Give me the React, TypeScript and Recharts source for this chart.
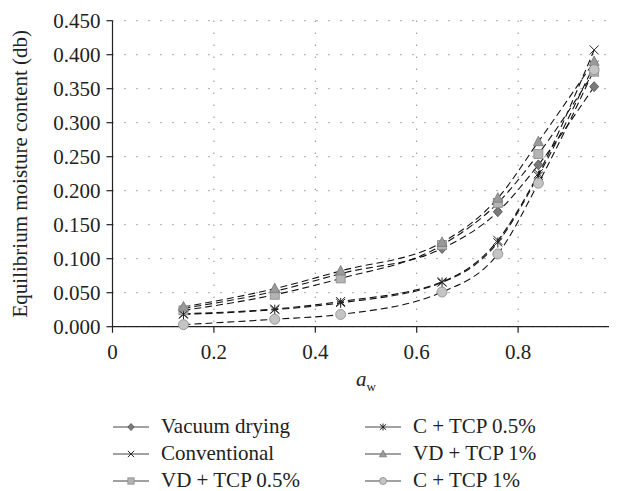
import React from 'react'
import { LineChart, Line, XAxis, YAxis, CartesianGrid } from 'recharts'

const AW = [0.14, 0.32, 0.45, 0.65, 0.76, 0.84, 0.95]
const VACUUM = [0.027, 0.052, 0.078, 0.115, 0.169, 0.238, 0.353]
const CONVENTIONAL = [0.019, 0.026, 0.037, 0.066, 0.127, 0.225, 0.407]
const VD_TCP05 = [0.024, 0.047, 0.071, 0.12, 0.182, 0.254, 0.375]
const C_TCP05 = [0.018, 0.025, 0.035, 0.065, 0.124, 0.222, 0.385]
const VD_TCP1 = [0.029, 0.056, 0.082, 0.124, 0.189, 0.272, 0.39]
const C_TCP1 = [0.003, 0.011, 0.018, 0.051, 0.107, 0.211, 0.378]

const X_TICKS = [0, 0.2, 0.4, 0.6, 0.8]
const Y_TICKS = [0, 0.05, 0.1, 0.15, 0.2, 0.25, 0.3, 0.35, 0.4, 0.45]

type Shape = 'diamond' | 'cross' | 'square' | 'star' | 'triangle' | 'circle'

const SERIES: { key: string; label: string; shape: Shape; values: number[] }[] = [
  { key: 'vacuum', label: 'Vacuum drying', shape: 'diamond', values: VACUUM },
  { key: 'conv', label: 'Conventional', shape: 'cross', values: CONVENTIONAL },
  { key: 'vd05', label: 'VD + TCP 0.5%', shape: 'square', values: VD_TCP05 },
  { key: 'c05', label: 'C + TCP 0.5%', shape: 'star', values: C_TCP05 },
  { key: 'vd1', label: 'VD + TCP 1%', shape: 'triangle', values: VD_TCP1 },
  { key: 'c1', label: 'C + TCP 1%', shape: 'circle', values: C_TCP1 },
]

const data = AW.map((aw, i) => {
  const row: Record<string, number> = { aw }
  SERIES.forEach((s) => (row[s.key] = s.values[i]))
  return row
})

const FONT = '"Liberation Serif", "Times New Roman", serif'

// s scales the marker (1 on the plot, smaller in the legend)
function marker(shape: Shape, cx: number, cy: number, k?: string | number, s = 1) {
  switch (shape) {
    case 'diamond':
      return (
        <polygon
          key={k}
          points={`${cx},${cy - 5 * s} ${cx + 4.5 * s},${cy} ${cx},${cy + 5 * s} ${cx - 4.5 * s},${cy}`}
          fill="#7a7a7a"
          stroke="#4a4a4a"
          strokeWidth={0.8}
        />
      )
    case 'cross':
      return (
        <g key={k} stroke="#222" strokeWidth={1}>
          <line x1={cx - 4.5 * s} y1={cy - 4.5 * s} x2={cx + 4.5 * s} y2={cy + 4.5 * s} />
          <line x1={cx - 4.5 * s} y1={cy + 4.5 * s} x2={cx + 4.5 * s} y2={cy - 4.5 * s} />
        </g>
      )
    case 'square':
      return (
        <rect
          key={k}
          x={cx - 4.5 * s}
          y={cy - 4.5 * s}
          width={9 * s}
          height={9 * s}
          fill="#b4b4b4"
          stroke="#8a8a8a"
          strokeWidth={0.8}
        />
      )
    case 'star':
      return (
        <g key={k} stroke="#222" strokeWidth={1}>
          <line x1={cx - 4.5 * s} y1={cy - 4 * s} x2={cx + 4.5 * s} y2={cy + 4 * s} />
          <line x1={cx - 4.5 * s} y1={cy + 4 * s} x2={cx + 4.5 * s} y2={cy - 4 * s} />
          <line x1={cx} y1={cy - 5 * s} x2={cx} y2={cy + 5 * s} />
        </g>
      )
    case 'triangle':
      return (
        <polygon
          key={k}
          points={`${cx},${cy - 5.5 * s} ${cx + 5 * s},${cy + 4 * s} ${cx - 5 * s},${cy + 4 * s}`}
          fill="#9a9a9a"
          stroke="#777"
          strokeWidth={0.8}
        />
      )
    default:
      return <circle key={k} cx={cx} cy={cy} r={5 * s} fill="#c4c4c4" stroke="#8a8a8a" strokeWidth={0.8} />
  }
}

function XLabel(props: any) {
  const vb = props.viewBox || {}
  const cx = (vb.x ?? 104.5) + (vb.width ?? 507) / 2
  const y = (vb.y ?? 318.7) + 59
  return (
    <text x={cx} y={y} textAnchor="middle" fontFamily={FONT} fontSize={21} fill="#222">
      <tspan fontStyle="italic">a</tspan>
      <tspan fontSize={13} dy={5}>w</tspan>
    </text>
  )
}

function LegendItem({ label, shape }: { label: string; shape: Shape }) {
  return (
    <div style={{ display: 'flex', alignItems: 'center', height: 27 }}>
      <svg width={36} height={14}>
        <line x1={0} y1={7} x2={36} y2={7} stroke="#444" strokeWidth={1} />
        {marker(shape, 18, 7, undefined, 0.7)}
      </svg>
      <span style={{ marginLeft: 12, fontFamily: FONT, fontSize: 21, color: '#222', whiteSpace: 'nowrap' }}>
        {label}
      </span>
    </div>
  )
}

export default function App() {
  const tickStyle = { fill: '#222', fontSize: 21, fontFamily: FONT }
  return (
    <div style={{ position: 'relative', width: 609, height: 483, overflow: 'hidden' }}>
      <LineChart width={620} height={390} data={data} margin={{ top: 12.7, right: 8.5, left: 0, bottom: 0 }}>
        <CartesianGrid stroke="#555" strokeDasharray="1 11" strokeWidth={1} verticalValues={X_TICKS.slice(1)} />
        <XAxis
          dataKey="aw"
          type="number"
          domain={[0, 1]}
          ticks={X_TICKS}
          tickFormatter={(v) => String(v)}
          tick={tickStyle}
          tickSize={6}
          tickMargin={11}
          stroke="#222"
          strokeWidth={1.2}
          height={71.3}
          label={{ content: <XLabel /> }}
        />
        <YAxis
          type="number"
          domain={[0, 0.45]}
          ticks={Y_TICKS}
          tickFormatter={(v) => Number(v).toFixed(3)}
          tick={tickStyle}
          tickSize={6}
          tickMargin={6}
          stroke="#222"
          strokeWidth={1.2}
          width={104.5}
          label={{
            value: 'Equilibrium moisture content (db)',
            angle: -90,
            position: 'insideLeft',
            offset: 12,
            style: { textAnchor: 'middle', fontFamily: FONT, fontSize: 21, fill: '#222' },
          }}
        />
        {SERIES.map((s) => (
          <Line
            key={s.key}
            dataKey={s.key}
            type="monotone"
            stroke="#111"
            strokeWidth={1.1}
            strokeDasharray="7 4"
            isAnimationActive={false}
            dot={(p: any) => marker(s.shape, p.cx, p.cy, `${s.key}-${p.index}`)}
            activeDot={false}
          />
        ))}
      </LineChart>
      <div style={{ position: 'absolute', left: 105, top: 405, display: 'flex' }}>
        <div style={{ width: 252 }}>
          {SERIES.slice(0, 3).map((s) => (
            <LegendItem key={s.key} label={s.label} shape={s.shape} />
          ))}
        </div>
        <div>
          {SERIES.slice(3).map((s) => (
            <LegendItem key={s.key} label={s.label} shape={s.shape} />
          ))}
        </div>
      </div>
    </div>
  )
}
